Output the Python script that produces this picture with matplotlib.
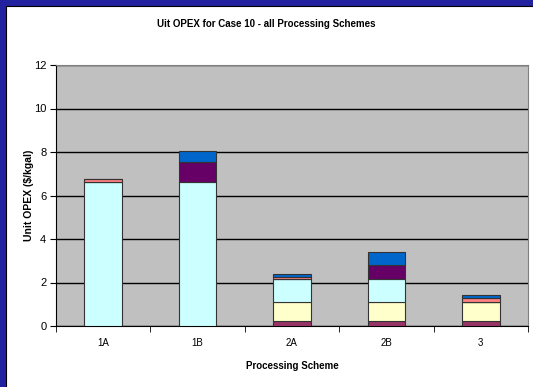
import numpy as np
import matplotlib.pyplot as plt
from matplotlib.patches import Rectangle

# unit OPEX by cost component, $/kgal
schemes = ["1A", "1B", "2A", "2B", "3"]
comp_a = [0.0, 0.0, 0.23, 0.23, 0.23]
comp_b = [0.0, 0.0, 0.87, 0.87, 0.87]
comp_c = [6.63, 6.63, 1.05, 1.05, 0.0]
comp_d = [0.0, 0.90, 0.0, 0.67, 0.0]
comp_e = [0.11, 0.0, 0.12, 0.0, 0.20]
comp_f = [0.0, 0.52, 0.13, 0.58, 0.14]

SERIES = [
    (comp_a, "#993366"),
    (comp_b, "#FFFFCC"),
    (comp_c, "#CCFFFF"),
    (comp_d, "#660066"),
    (comp_e, "#FF8080"),
    (comp_f, "#0066CC"),
]

plt.rcParams['font.family'] = ['Liberation Sans', 'DejaVu Sans']

fig = plt.figure(figsize=(5.33, 3.87), dpi=100)
fig.patch.set_facecolor("white")

# dark blue frame on left and top edges
fig.patches.append(Rectangle((0, 0), 6 / 533, 1, transform=fig.transFigure,
                             facecolor="#2222A0", edgecolor="none", zorder=0))
fig.patches.append(Rectangle((0, 1 - 6 / 387), 1, 6 / 387, transform=fig.transFigure,
                             facecolor="#2222A0", edgecolor="none", zorder=0))
fig.add_artist(plt.Line2D([6 / 533, 6 / 533], [0, 1 - 6 / 387], color="black",
                          lw=0.8, transform=fig.transFigure))
fig.add_artist(plt.Line2D([6 / 533, 1], [1 - 6 / 387, 1 - 6 / 387], color="black",
                          lw=0.8, transform=fig.transFigure))

ax = fig.add_axes([56 / 533, 61 / 387, 472 / 533, 261 / 387])
ax.set_facecolor("#C0C0C0")

x = np.arange(len(schemes))
bottom = np.zeros(len(schemes))
for vals, color in SERIES:
    vals = np.array(vals)
    ax.bar(x, vals, 0.4, bottom=bottom, color=color, edgecolor="#333333",
           linewidth=0.8, zorder=3)
    bottom += vals

ax.set_xlim(-0.5, len(schemes) - 0.5)
ax.set_ylim(0, 12)
ax.set_yticks(np.arange(0, 13, 2))
ax.grid(True, axis='y', color="black", linewidth=1.0, zorder=1)

ax.set_xticks(x)
ax.set_xticklabels(schemes, fontsize=7)
ax.set_xticks(np.arange(-0.5, len(schemes)), minor=True)
ax.tick_params(axis='x', which='major', length=0, pad=9)
ax.tick_params(axis='x', which='minor', length=4, direction='out', color="black")
ax.tick_params(axis='y', length=4, direction='out', labelsize=8, pad=3)

for side in ("top", "right"):
    ax.spines[side].set_color("#808080")
ax.spines["left"].set_color("black")
ax.spines["bottom"].set_color("black")

ax.set_xlabel("Processing Scheme", fontsize=7, fontweight="bold", labelpad=9)
ax.set_ylabel("Unit OPEX ($/kgal)", fontsize=7.5, fontweight="bold", labelpad=0)
fig.text(0.50, 1 - 24 / 387, "Uit OPEX for Case 10 - all Processing Schemes",
         ha="center", va="center", fontsize=7, fontweight="bold")

fig.savefig("out.png", dpi=100)
